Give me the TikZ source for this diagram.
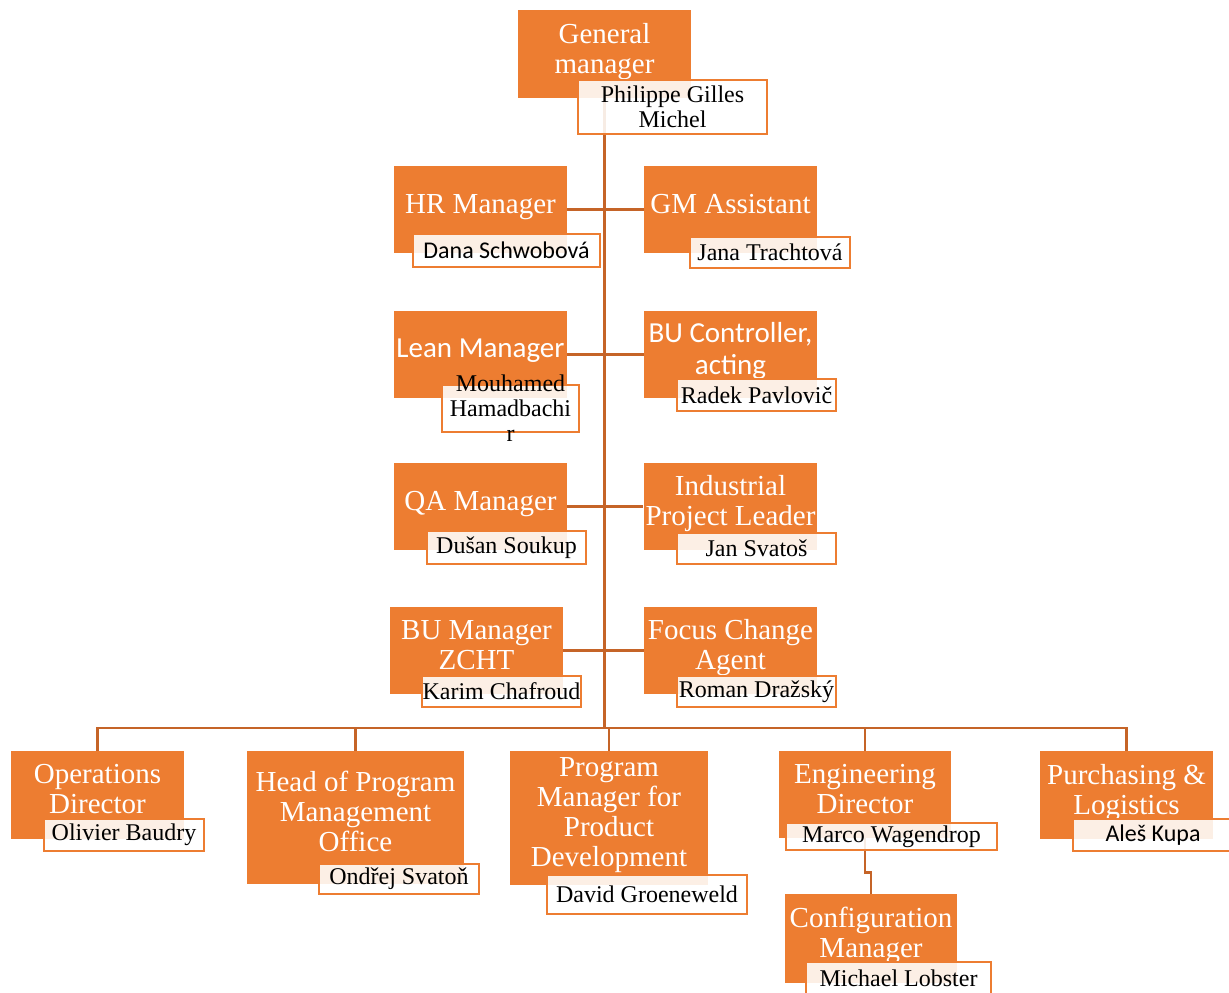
\documentclass[tikz,border=0pt]{standalone}
\usepackage{fontspec}
\setmainfont{Liberation Serif}
\newfontfamily\calibri{Carlito}
\definecolor{orgfill}{RGB}{237,125,49}
\definecolor{orgline}{RGB}{197,100,40}

\begin{document}
\begin{tikzpicture}[x=.5pt, y=-.5pt,
    post/.style={fill=orgfill, text=white, align=center, inner sep=1pt, text depth=6pt,
      minimum width=86.5pt, minimum height=43.5pt, font=\fontsize{14.5}{15}\selectfont},
    calpost/.style={post, font=\calibri\fontsize{14.5}{16}\selectfont},
    who/.style={draw=orgfill, line width=1pt, fill=white, fill opacity=.88, text opacity=1,
      align=center, inner sep=0pt, minimum width=79.5pt, minimum height=15.5pt,
      font=\fontsize{12}{12.5}\selectfont},
    calwho/.style={who, font=\calibri\fontsize{12}{13}\selectfont},
    link/.style={draw=orgline, line width=1.4pt}]
\useasboundingbox (0,0) rectangle (1229,992);

% positions
\node[post, minimum height=44pt] (gm) at (604.5,54) {General\\manager};
\node[post] (hr) at (480.5,209.5) {HR Manager};
\node[post] (gma) at (730.5,209.5) {GM Assistant};
\node[calpost] (lean) at (480.5,354.5) {Lean Manager};
\node[calpost] (buc) at (730.5,354.5) {BU Controller,\\acting};
\node[post] (qa) at (480.5,506.5) {QA Manager};
\node[post] (ipl) at (730.5,506.5) {Industrial\\Project Leader};
\node[post] (bum) at (476.5,650.5) {BU Manager\\ZCHT};
\node[post] (fca) at (730.5,650.5) {Focus Change\\Agent};
\node[post, minimum height=44pt] (ops) at (97.5,795) {Operations\\Director};
\node[post, minimum width=108.5pt, minimum height=66.5pt] (pmo) at (355.5,817.5) {Head of Program\\Management\\Office};
\node[post, minimum width=99pt, minimum height=67pt] (pm) at (609,818) {Program\\Manager for\\Product\\Development};
\node[post, minimum width=86pt] (eng) at (865,794.5) {Engineering\\Director};
\node[post, minimum height=44pt] (pur) at (1126.5,795) {Purchasing \&\\Logistics};
\node[post, minimum width=86pt, minimum height=44.5pt] (cfg) at (871,938.5) {Configuration\\Manager};

% lines
\coordinate (bus) at (604.5,728);
\draw[link] (gm.south) -- (bus);
\draw[link] (hr.east) -- (gma.west);
\draw[link] (lean.east) -- (buc.west);
\draw[link] (qa.east) -- (ipl.west);
\draw[link] (bum.east) -- (fca.west);
\foreach \n in {ops,pmo,pm,eng,pur}
  \draw[link] (bus) -| (\n.north);
\draw[link] (eng.south) -- ++(0,34) -| (cfg.north);

% names
\node[who, minimum width=94.5pt, minimum height=27pt] (gmn) at (672.5,107) {Philippe Gilles\\Michel};
\node[calwho, minimum width=93.5pt, minimum height=16.5pt] (hrn) at (506.5,250.5) {Dana Schwobová};
\node[who, minimum width=80pt] (gman) at (770,252.5) {Jana Trachtová};
\node[who, minimum width=68.5pt, minimum height=23.5pt] (leann) at (510.5,408.5) {};
\node[align=center, inner sep=0pt, font=\fontsize{12}{12.5}\selectfont] (leant) at (leann.center) {Mouhamed\\Hamadbachi\\r};
\node[who, minimum height=16pt] (bucn) at (756.5,395) {Radek Pavlovič};
\node[who, minimum height=16.5pt] (qan) at (506.5,547.5) {Dušan Soukup};
\node[who] (ipln) at (756.5,548.5) {Jan Svatoš};
\node[who] (bumn) at (501.5,691.5) {Karim Chafroud};
\node[who] (fcan) at (756.5,691.5) {Roman Dražský};
\node[who, minimum width=80pt, minimum height=16pt] (opsn) at (124,835) {Olivier Baudry};
\node[who, minimum width=80pt, minimum height=15pt] (pmon) at (399,879) {Ondřej Svatoň};
\node[who, minimum width=100pt, minimum height=19.5pt] (pmn) at (647,894.5) {David Groeneweld};
\node[who, minimum width=105.5pt, minimum height=13.5pt] (engn) at (891.5,836.5) {Marco Wagendrop};
\node[calwho, minimum width=80pt, minimum height=16pt] (purn) at (1153,835) {Aleš Kupa};
\node[who, minimum width=92.5pt, minimum height=16pt] (cfgn) at (898.5,978) {Michael Lobster};

\end{tikzpicture}
\end{document}
